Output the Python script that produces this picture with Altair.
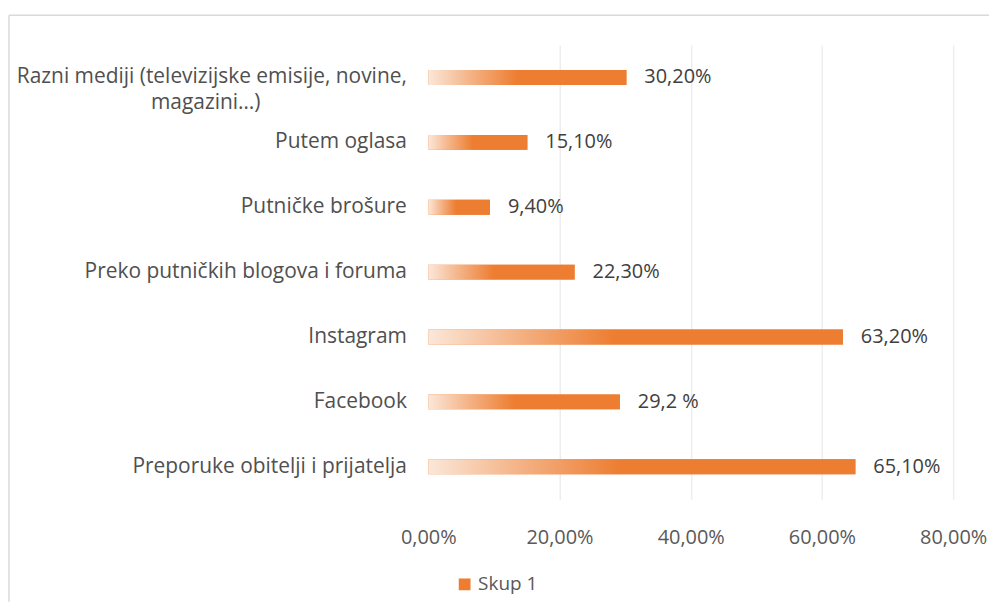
import altair as alt
import pandas as pd

categories = [
    "Razni mediji (televizijske emisije, novine,\nmagazini…)",
    "Putem oglasa",
    "Putničke brošure",
    "Preko putničkih blogova i foruma",
    "Instagram",
    "Facebook",
    "Preporuke obitelji i prijatelja",
]
values = [0.302, 0.151, 0.094, 0.223, 0.632, 0.292, 0.651]
value_labels = ["30,20%", "15,10%", "9,40%", "22,30%", "63,20%", "29,2  %", "65,10%"]
x_ticks = [0, 0.2, 0.4, 0.6, 0.8]
series_name = "Skup 1"

df = pd.DataFrame({"cat": categories, "val": values, "lab": value_labels, "series": series_name})

FONT = "Open Sans"
ORANGE = "#ED7D31"
W, H = 527, 456
PL, PT, PR, PB = 422, 36, 36, 103

grad = alt.Gradient(
    gradient="linear",
    stops=[
        alt.GradientStop(color="#FBE7D9", offset=0),
        alt.GradientStop(color="#F4B183", offset=0.22),
        alt.GradientStop(color=ORANGE, offset=0.45),
        alt.GradientStop(color=ORANGE, offset=1),
    ],
    x1=0, x2=1, y1=0, y2=0,
)

pad = "\u2003" * 7 + "\u2060"
label_expr = (
    "length(split(datum.label, '\\n')) > 1 ? "
    "[split(datum.label, '\\n')[0], split(datum.label, '\\n')[1] + '" + pad + "'] : datum.label"
)

y_enc = alt.Y(
    "cat:N",
    sort=categories,
    scale=alt.Scale(paddingInner=0, paddingOuter=0),
    axis=alt.Axis(
        title=None, domain=False, ticks=False, labelPadding=22,
        labelFontSize=21, labelColor="#505050", labelFont=FONT,
        labelLimit=600, labelLineHeight=26, labelExpr=label_expr,
    ),
)
x_enc = alt.X(
    "val:Q",
    scale=alt.Scale(domain=[0, 0.8], nice=False),
    axis=alt.Axis(
        title=None, domain=False, ticks=False, values=x_ticks,
        labelExpr="replace(format(datum.value, '.2%'), '.', ',')",
        labelFontSize=20, labelColor="#595959", labelFont=FONT, labelPadding=28,
        labelFlush=False, labelOverlap=False,
        grid=True, gridColor="#EDEDED", gridWidth=1.5,
        gridOpacity={"condition": {"test": "datum.value === 0", "value": 0}, "value": 1},
    ),
)

base = alt.Chart(df)

legend_bars = base.mark_bar(height=15).encode(
    x=x_enc, y=y_enc,
    color=alt.Color(
        "series:N",
        scale=alt.Scale(range=[ORANGE]),
        legend=alt.Legend(
            title=None, orient="none", legendX=27, legendY=532,
            symbolType="square", symbolSize=140, symbolStrokeWidth=0,
            labelFontSize=19, labelColor="#595959", labelFont=FONT, labelOffset=4,
        ),
    ),
)
grad_bars = base.mark_bar(height=15, color=grad).encode(x="val:Q", y=alt.Y("cat:N", sort=categories))
texts = base.mark_text(align="left", baseline="middle", dx=18, fontSize=20, font=FONT, color="#404040").encode(
    x="val:Q", y=alt.Y("cat:N", sort=categories), text="lab:N"
)

frame_top = alt.Chart(pd.DataFrame({"k": [0]})).mark_rule(color="#D9D9D9", strokeWidth=1.5).encode(
    x=alt.value(-PL + 1), x2=alt.value(W + PR), y=alt.value(-30)
)
frame_left = alt.Chart(pd.DataFrame({"k": [0]})).mark_rule(color="#D9D9D9", strokeWidth=1.5).encode(
    x=alt.value(-PL + 1), y=alt.value(-30), y2=alt.value(H + PB)
)

chart = alt.layer(legend_bars, grad_bars, texts, frame_top, frame_left).properties(
    width=W, height=H,
    autosize="none",
    padding={"left": PL, "top": PT, "right": PR, "bottom": PB},
).configure(background="white").configure_view(stroke=None)

chart.save("out.html", embed_options={"renderer": "svg", "actions": False})
